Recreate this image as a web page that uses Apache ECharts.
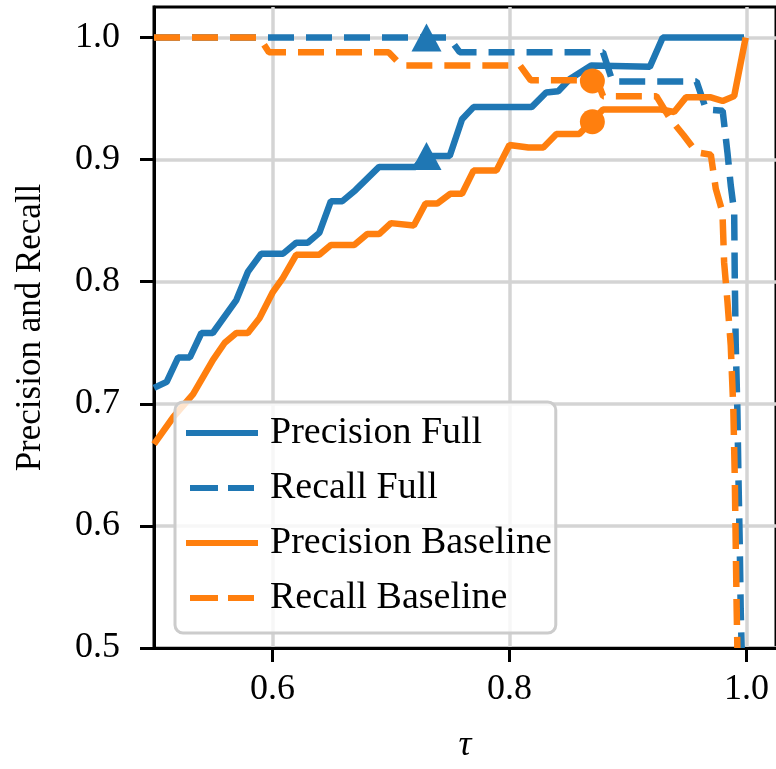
<!DOCTYPE html>
<html>
<head>
<meta charset="utf-8">
<script src="https://cdn.jsdelivr.net/npm/echarts@6/dist/echarts.min.js"></script>
<style>
  html, body { margin: 0; padding: 0; background: #fff; }
  #chart { width: 776px; height: 769px; }
</style>
</head>
<body>
<div id="chart"></div>
<script>
// values
const precFullX = [0.5, 0.5107, 0.5204, 0.5303, 0.540, 0.5496, 0.5695, 0.5792, 0.5905, 0.609, 0.620, 0.6297, 0.6395, 0.6493, 0.659, 0.670, 0.690, 0.7208, 0.7292, 0.7496, 0.760, 0.7697, 0.8187, 0.831, 0.8412, 0.851, 0.869, 0.9185, 0.9294, 0.998];
const precFullY = [0.713, 0.718, 0.738, 0.738, 0.758, 0.758, 0.785, 0.808, 0.823, 0.823, 0.832, 0.832, 0.840, 0.866, 0.866, 0.875, 0.894, 0.894, 0.903, 0.903, 0.933, 0.943, 0.943, 0.955, 0.956, 0.966, 0.977, 0.976, 1.0, 1.0];

const recFullX = [0.5, 0.749, 0.758, 0.879, 0.887, 0.958, 0.966, 0.980, 0.984, 0.9868, 0.9897, 0.9902, 0.991, 0.9924, 0.9933, 0.9944, 0.9952, 0.996];
const recFullY = [1.0, 1.0, 0.988, 0.988, 0.964, 0.964, 0.941, 0.940, 0.906, 0.879, 0.857, 0.803, 0.749, 0.695, 0.64, 0.585, 0.532, 0.5];

const precBaseX = [0.5, 0.5162, 0.533, 0.5498, 0.5597, 0.5695, 0.5792, 0.589, 0.600, 0.6087, 0.620, 0.6395, 0.6493, 0.669, 0.680, 0.690, 0.700, 0.7193, 0.7292, 0.739, 0.750, 0.760, 0.7697, 0.789, 0.800, 0.816, 0.8286, 0.8397, 0.859, 0.879, 0.928, 0.939, 0.949, 0.970, 0.980, 0.9897, 0.9994];
const precBaseY = [0.667, 0.689, 0.708, 0.736, 0.750, 0.758, 0.758, 0.770, 0.791, 0.803, 0.822, 0.822, 0.830, 0.830, 0.839, 0.839, 0.848, 0.846, 0.864, 0.864, 0.872, 0.872, 0.891, 0.891, 0.912, 0.910, 0.910, 0.921, 0.921, 0.941, 0.941, 0.939, 0.951, 0.951, 0.948, 0.952, 1.0];

const recBaseX = [0.5, 0.589, 0.597, 0.698, 0.709, 0.809, 0.818, 0.874, 0.879, 0.924, 0.936, 0.947, 0.958, 0.970, 0.9742, 0.9798, 0.9812, 0.984, 0.9868, 0.989, 0.9902, 0.991, 0.9918, 0.9924];
const recBaseY = [1.0, 1.0, 0.988, 0.988, 0.977, 0.977, 0.965, 0.965, 0.952, 0.952, 0.933, 0.92, 0.906, 0.904, 0.876, 0.857, 0.816, 0.784, 0.748, 0.695, 0.64, 0.586, 0.532, 0.5];

// highlighted operating points
const triX = [0.73, 0.73];
const triY = [1.0, 0.903];
const dotX = [0.87, 0.87];
const dotY = [0.9644, 0.931];

const xTicks = [0.6, 0.8, 1.0];
const yTicks = [0.5, 0.6, 0.7, 0.8, 0.9, 1.0];

const BLUE = "#1f77b4";
const ORANGE = "#ff7f0e";
const FONT = "Liberation Serif";

// legend swatches: a solid bar and two dashes
const SOLID_ICON = "path://M0,0H72V6H0Z";
const DASH_ICON = "path://M0,0H28V6H0Z M38,0H64V6H38Z";

function pairs(xs, ys) {
  return xs.map((x, i) => [x, ys[i]]);
}

function lineSeries(name, xs, ys, color, dashed) {
  return {
    name: name,
    type: "line",
    data: pairs(xs, ys),
    symbol: "none",
    color: color,
    lineStyle: {
      color: color,
      width: 6.5,
      type: dashed ? [26, 12] : "solid",
      cap: "butt",
    },
    itemStyle: { color: color },
    z: 3,
  };
}

const chart = echarts.init(document.getElementById("chart"));

const option = {
  animation: false,
  grid: {
    left: 154,
    right: -3,
    top: 7,
    bottom: 117,
    show: true,
    borderColor: "#000",
    borderWidth: 3,
    backgroundColor: "transparent",
  },
  xAxis: {
    type: "value",
    min: 0.5,
    max: 1.025,
    name: "τ",
    nameLocation: "middle",
    nameGap: 80,
    nameTextStyle: { fontFamily: FONT, fontSize: 36, fontStyle: "italic", color: "#000" },
    axisLine: { show: true, lineStyle: { color: "#000", width: 3 } },
    axisTick: { show: true, customValues: xTicks, length: 14, lineStyle: { color: "#000", width: 3 } },
    axisLabel: {
      customValues: xTicks,
      margin: 24,
      fontFamily: FONT,
      fontSize: 36,
      color: "#000",
      formatter: (v) => v.toFixed(1),
    },
    splitLine: { show: true, lineStyle: { color: "#d4d4d4", width: 3.5 } },
  },
  yAxis: {
    type: "value",
    min: 0.5,
    max: 1.025,
    name: "Precision and Recall",
    nameLocation: "middle",
    nameGap: 106,
    nameTextStyle: { fontFamily: FONT, fontSize: 35, color: "#000" },
    axisLine: { show: true, lineStyle: { color: "#000", width: 3 } },
    axisTick: { show: true, customValues: yTicks, length: 14, lineStyle: { color: "#000", width: 3 } },
    axisLabel: {
      customValues: yTicks,
      margin: 34,
      fontFamily: FONT,
      fontSize: 36,
      color: "#000",
      formatter: (v) => v.toFixed(1),
    },
    splitLine: { show: true, lineStyle: { color: "#d4d4d4", width: 3.5 } },
  },
  legend: {
    data: [
      { name: "Precision Full", icon: SOLID_ICON },
      { name: "Recall Full", icon: DASH_ICON },
      { name: "Precision Baseline", icon: SOLID_ICON },
      { name: "Recall Baseline", icon: DASH_ICON },
    ],
    orient: "vertical",
    left: 175,
    top: 402,
    itemWidth: 72,
    itemHeight: 6,
    itemGap: 17,
    padding: [12, 4, 16, 11],
    backgroundColor: "rgba(255,255,255,0.8)",
    borderColor: "#cccccc",
    borderWidth: 3,
    borderRadius: 8,
    textStyle: { fontFamily: FONT, fontSize: 38, color: "#000", padding: [0, 0, 0, 7] },
  },
  series: [
    lineSeries("Precision Full", precFullX, precFullY, BLUE, false),
    lineSeries("Recall Full", recFullX, recFullY, BLUE, true),
    lineSeries("Precision Baseline", precBaseX, precBaseY, ORANGE, false),
    lineSeries("Recall Baseline", recBaseX, recBaseY, ORANGE, true),
    {
      name: "full point",
      type: "scatter",
      data: pairs(triX, triY),
      symbol: "triangle",
      symbolSize: [30, 28],
      itemStyle: { color: BLUE, opacity: 1 },
      z: 5,
    },
    {
      name: "baseline point",
      type: "scatter",
      data: pairs(dotX, dotY),
      symbol: "circle",
      symbolSize: 25,
      itemStyle: { color: ORANGE, opacity: 1 },
      z: 5,
    },
  ],
};

chart.setOption(option);
</script>
</body>
</html>
